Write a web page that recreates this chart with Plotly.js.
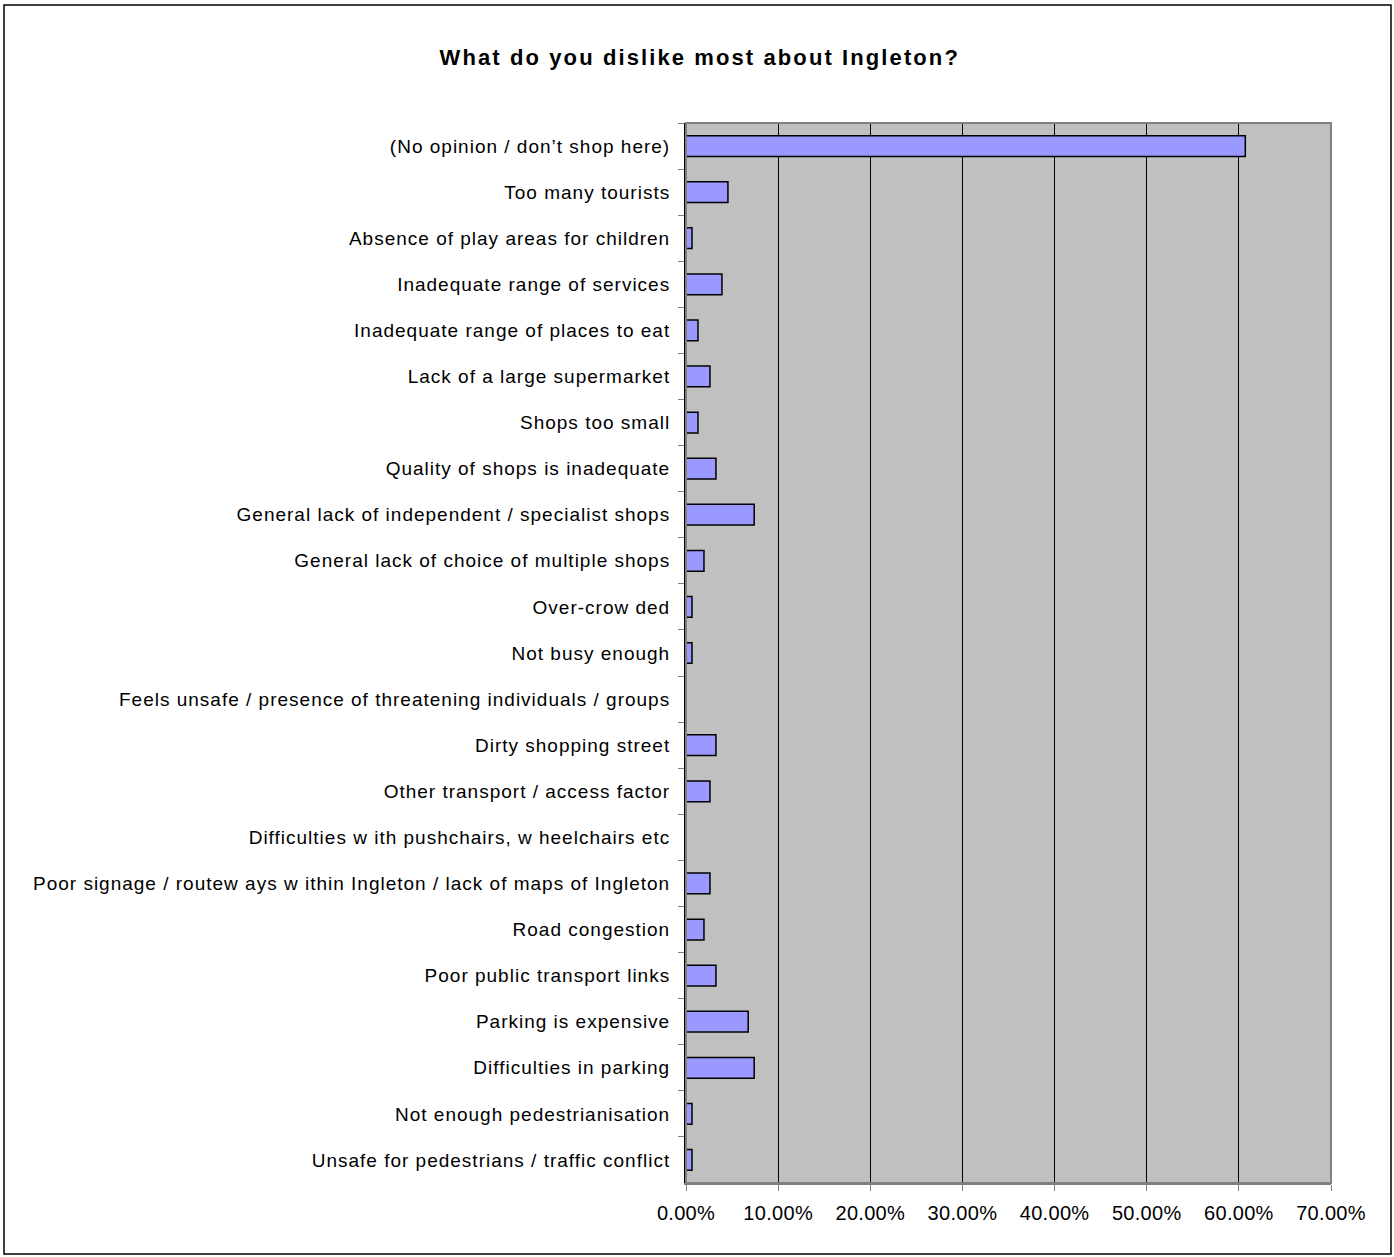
<!DOCTYPE html>
<html>
<head>
<meta charset="utf-8">
<script src="https://cdn.plot.ly/plotly-3.0.1.min.js"></script>
<style>
  html, body { margin: 0; padding: 0; background: #ffffff; }
  #chart { width: 1394px; height: 1257px; }
  #chart .ytick text { letter-spacing: 1px; }
  #chart .xtick text { letter-spacing: 0.3px; }
  #chart .gtitle { letter-spacing: 2.1px; }
</style>
</head>
<body>
<div id="chart"></div>
<script>
// Categories, top to bottom as shown in the reference
const categories = [
  "(No opinion / don\u2019t shop here)",
  "Too many tourists",
  "Absence of play areas for children",
  "Inadequate range of services",
  "Inadequate range of places to eat",
  "Lack of a large supermarket",
  "Shops too small",
  "Quality of shops is inadequate",
  "General lack of independent / specialist shops",
  "General lack of choice of multiple shops",
  "Over-crow ded",
  "Not busy enough",
  "Feels unsafe / presence of threatening individuals / groups",
  "Dirty shopping street",
  "Other transport / access factor",
  "Difficulties w ith pushchairs, w heelchairs etc",
  "Poor signage / routew ays w ithin Ingleton / lack of maps of Ingleton",
  "Road congestion",
  "Poor public transport links",
  "Parking is expensive",
  "Difficulties in parking",
  "Not enough pedestrianisation",
  "Unsafe for pedestrians / traffic conflict"
];

// Percent of respondents
const percentValues = [
  60.7, 4.55, 0.65, 3.9, 1.3, 2.6, 1.3, 3.25, 7.4, 1.95, 0.65, 0.65,
  0, 3.25, 2.6, 0, 2.6, 1.95, 3.25, 6.75, 7.4, 0.65, 0.65
];

const xTickValues = [0, 10, 20, 30, 40, 50, 60, 70];
const xTickLabels = ["0.00%", "10.00%", "20.00%", "30.00%", "40.00%", "50.00%", "60.00%", "70.00%"];

const chartTitle = "What do you dislike most about Ingleton?";

const trace = {
  type: "bar",
  orientation: "h",
  x: percentValues,
  y: categories,
  marker: { color: "#9999ff", line: { color: "#000000", width: 1.5 } },
  hoverinfo: "x+y"
};

// plot area pixels: x 686..1331, y 123..1183
const W = 1394, H = 1257;
const L = 686, R = 1331, T = 123, B = 1183;
const pw = R - L, ph = B - T;
function px(p) { return (p - L) / pw; }
function py(p) { return (B - p) / ph; }

const layout = {
  width: W,
  height: H,
  margin: { l: L, r: W - R, t: T, b: H - B, pad: 0 },
  paper_bgcolor: "#ffffff",
  plot_bgcolor: "#c0c0c0",
  font: { family: "Liberation Sans, Arial, sans-serif", size: 19, color: "#000000" },
  title: {
    text: "<b>" + chartTitle + "</b>",
    font: { family: "Liberation Sans, Arial, sans-serif", size: 22, color: "#000000" },
    x: 0.502, xref: "container", xanchor: "center",
    y: 1 - 57 / H, yref: "container", yanchor: "middle"
  },
  bargap: 0.55,
  showlegend: false,
  xaxis: {
    range: [0, 70],
    tickvals: xTickValues,
    ticktext: xTickLabels,
    showgrid: true,
    gridcolor: "#000000",
    gridwidth: 1,
    zeroline: false,
    showline: true,
    linecolor: "#808080",
    linewidth: 2,
    ticks: "outside",
    ticklen: 6,
    tickcolor: "#808080",
    tickwidth: 1,
    ticklabelstandoff: 5,
    tickfont: { size: 20 },
    fixedrange: true
  },
  yaxis: {
    type: "category",
    autorange: "reversed",
    showgrid: false,
    zeroline: false,
    showline: true,
    linecolor: "#000000",
    linewidth: 2,
    ticks: "outside",
    tickson: "boundaries",
    ticklen: 6,
    tickcolor: "#808080",
    tickwidth: 1,
    ticklabelstandoff: 10,
    tickfont: { size: 19 },
    fixedrange: true
  },
  shapes: [
    // gray plot frame (top and right)
    { type: "rect", xref: "paper", yref: "paper", x0: 0, x1: 1, y0: 0, y1: 1,
      line: { color: "#808080", width: 2 }, fillcolor: "rgba(0,0,0,0)", layer: "above" },
    // outer chart border
    { type: "rect", xref: "paper", yref: "paper",
      x0: px(4), x1: px(1391), y0: py(1254), y1: py(5),
      line: { color: "#000000", width: 1.5 }, fillcolor: "rgba(0,0,0,0)", layer: "above" }
  ]
};

Plotly.newPlot("chart", [trace], layout, { displayModeBar: false, staticPlot: true });
</script>
</body>
</html>
